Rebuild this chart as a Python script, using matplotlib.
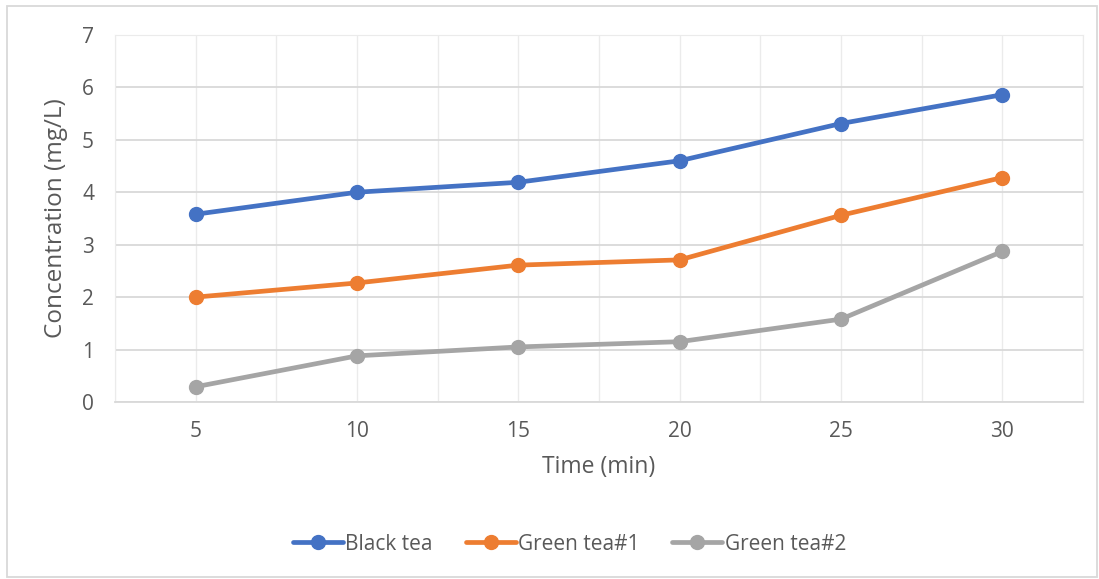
import matplotlib.pyplot as plt
from matplotlib.patches import Rectangle
import numpy as np

# data
time_min = [5, 10, 15, 20, 25, 30]
black_tea = [3.58, 4.00, 4.19, 4.60, 5.31, 5.86]
green_tea1 = [2.00, 2.27, 2.61, 2.71, 3.56, 4.28]
green_tea2 = [0.29, 0.88, 1.05, 1.15, 1.58, 2.87]
series_names = ['Black tea', 'Green tea#1', 'Green tea#2']

colors = ['#4472C4', '#ED7D31', '#A5A5A5']
text_col = '#595959'
plt.rcParams['font.family'] = ['Open Sans', 'DejaVu Sans']

fig = plt.figure(figsize=(10.99, 5.79), dpi=100)
ax = fig.add_axes([0.1046, 0.3057, 0.8808, 0.634])

for y, name, c in zip([black_tea, green_tea1, green_tea2], series_names, colors):
    ax.plot(time_min, y, color=c, lw=3.4, marker='o', ms=10, label=name,
            solid_capstyle='round', zorder=3)

ax.set_xlim(2.5, 32.5)
ax.set_ylim(0, 7)
ax.set_xticks(time_min)
ax.set_xticks(np.arange(2.5, 32.6, 2.5), minor=True)
ax.set_yticks(range(0, 8))
ax.grid(True, which='both', axis='x', color='#ebebeb', lw=1.0)
ax.grid(True, axis='y', color='#d9d9d9', lw=1.3)
ax.set_axisbelow(True)
for s in ['top', 'right', 'left']:
    ax.spines[s].set_color('#ebebeb')
ax.spines['bottom'].set_color('#d9d9d9')
ax.spines['bottom'].set_linewidth(1.3)
ax.tick_params(which='both', length=0, labelsize=15, colors=text_col)
ax.tick_params(axis='x', pad=14)
ax.tick_params(axis='y', pad=15)

ax.set_xlabel('Time (min)', fontsize=16.5, color=text_col, labelpad=9)
ax.set_ylabel('Concentration (mg/L)', fontsize=17.5, color=text_col, labelpad=10)

fig.legend(loc='center', bbox_to_anchor=(0.518, 0.06), ncol=3, frameon=False,
           fontsize=15, labelcolor=text_col, handlelength=2.4,
           handletextpad=0.1, columnspacing=1.6)

fig.patches.append(Rectangle((0.006, 0.003), 0.992, 0.986, transform=fig.transFigure,
                             fill=False, ec='#d9d9d9', lw=1.3))

fig.savefig('out.png', dpi=100)
